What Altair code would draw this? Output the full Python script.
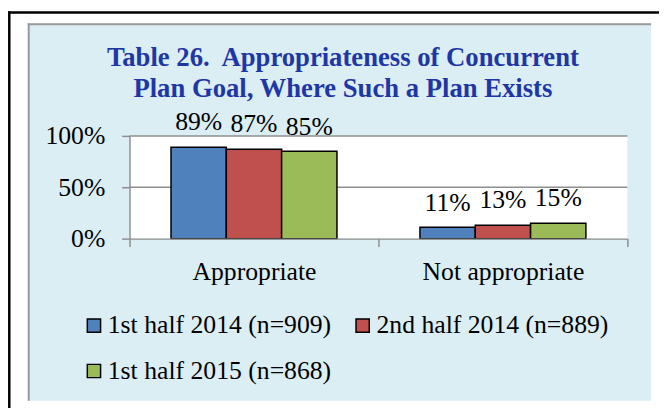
import altair as alt

# ---- data ----
categories = ["Appropriate", "Not appropriate"]
series = ["1st half 2014 (n=909)", "2nd half 2014 (n=889)", "1st half 2015 (n=868)"]
appropriate = [89, 87, 85]
not_appropriate = [11, 13, 15]
colors = ["#4F81BD", "#C0504D", "#9BBB59"]
y_ticks = [0, 50, 100]
title_lines = ["Table 26.\u00a0 Appropriateness of Concurrent",
               "Plan Goal, Where Such a Plan Exists"]

rows = []
for cat, vals in zip(categories, [appropriate, not_appropriate]):
    for s, v in zip(series, vals):
        rows.append({"category": cat, "series": s, "value": v})

FONT = "Liberation Serif"
GRAY = "#8E8E8E"
PANEL = "#DBEEF4"
TITLE_COLOR = "#1F37A6"
W, H = 504, 104

x_enc = alt.X(
    "category:N", sort=categories,
    scale=alt.Scale(paddingInner=0, paddingOuter=0),
    axis=alt.Axis(title=None, labelAngle=0, labelFont=FONT, labelFontSize=26,
                  labelColor="black", labelLimit=400, domainColor=GRAY, domainWidth=1.5,
                  tickColor=GRAY, tickWidth=1.5, tickSize=8, tickBand="extent",
                  labelPadding=12, grid=False, zindex=1),
)
y_enc = alt.Y(
    "value:Q", scale=alt.Scale(domain=[0, 100]),
    axis=alt.Axis(title=None, values=y_ticks, labelExpr="datum.value + '%'",
                  labelFont=FONT, labelFontSize=26, labelColor="black",
                  domainColor=GRAY, domainWidth=1.5, tickColor=GRAY, tickWidth=1.5,
                  tickSize=8, labelPadding=17, grid=False, zindex=1),
)
xoff = alt.XOffset("series:N", sort=series,
                   scale=alt.Scale(paddingInner=0, paddingOuter=0.75))

base = alt.Chart(alt.Data(values=rows))
one = alt.Data(values=[{}])

bars = base.mark_bar(stroke="black", strokeWidth=1.5).encode(
    x=x_enc, xOffset=xoff, y=y_enc,
    color=alt.Color(
        "series:N", sort=series,
        scale=alt.Scale(domain=series, range=colors),
        legend=alt.Legend(title=None, orient="none", legendX=-49, legendY=179,
                          columns=2, direction="horizontal", symbolType="square",
                          symbolSize=180, symbolStrokeColor="black",
                          symbolStrokeWidth=1.5, symbolOpacity=1,
                          labelFont=FONT, labelFontSize=26, labelColor="black",
                          labelLimit=400, labelOffset=1, columnPadding=18,
                          rowPadding=20, padding=0),
    ),
)

labels = base.transform_calculate(label="datum.value + '%'").mark_text(
    font=FONT, fontSize=26, color="black", baseline="alphabetic", dy=-17
).encode(x=x_enc, xOffset=xoff, y=y_enc, text="label:N")

grid = alt.Chart(alt.Data(values=[{"value": t} for t in y_ticks[1:]])).mark_rule(
    color=GRAY, strokeWidth=1.5
).encode(y=y_enc, x=alt.value(0), x2=alt.value(W))

panel = alt.Chart(one).mark_rect(color=PANEL).encode(
    x=alt.value(-103), x2=alt.value(528), y=alt.value(-114), y2=alt.value(268))
panel_left = alt.Chart(one).mark_rule(color="#9A9A9A", strokeWidth=2).encode(
    x=alt.value(-102), y=alt.value(-114), y2=alt.value(268))
panel_top = alt.Chart(one).mark_rule(color="#9A9A9A", strokeWidth=2).encode(
    y=alt.value(-113), x=alt.value(-103), x2=alt.value(528))
frame_left = alt.Chart(one).mark_rule(color="black", strokeWidth=2.5).encode(
    x=alt.value(-121.7), y=alt.value(-126), y2=alt.value(300))
frame_top = alt.Chart(one).mark_rule(color="black", strokeWidth=2.5).encode(
    y=alt.value(-124.8), x=alt.value(-123), x2=alt.value(560))
plot_bg = alt.Chart(one).mark_rect(color="white").encode(
    x=alt.value(0), x2=alt.value(W), y=alt.value(0), y2=alt.value(H))

chart = alt.layer(
    panel, panel_left, panel_top, frame_left, frame_top, plot_bg, grid, bars, labels
).properties(
    width=W, height=H,
    title=alt.Title(text=title_lines, font=FONT, fontSize=27, fontWeight="bold",
                    color=TITLE_COLOR, anchor="middle", frame="group", dx=-36,
                    offset=0, dy=94, lineHeight=31),
    autosize=alt.AutoSizeParams(type="none"),
    padding={"left": 123, "top": 127, "right": 32, "bottom": 169},
).configure_view(stroke="transparent").configure(background="white")

chart.save("out.html", embed_options={"renderer": "svg", "actions": False})
